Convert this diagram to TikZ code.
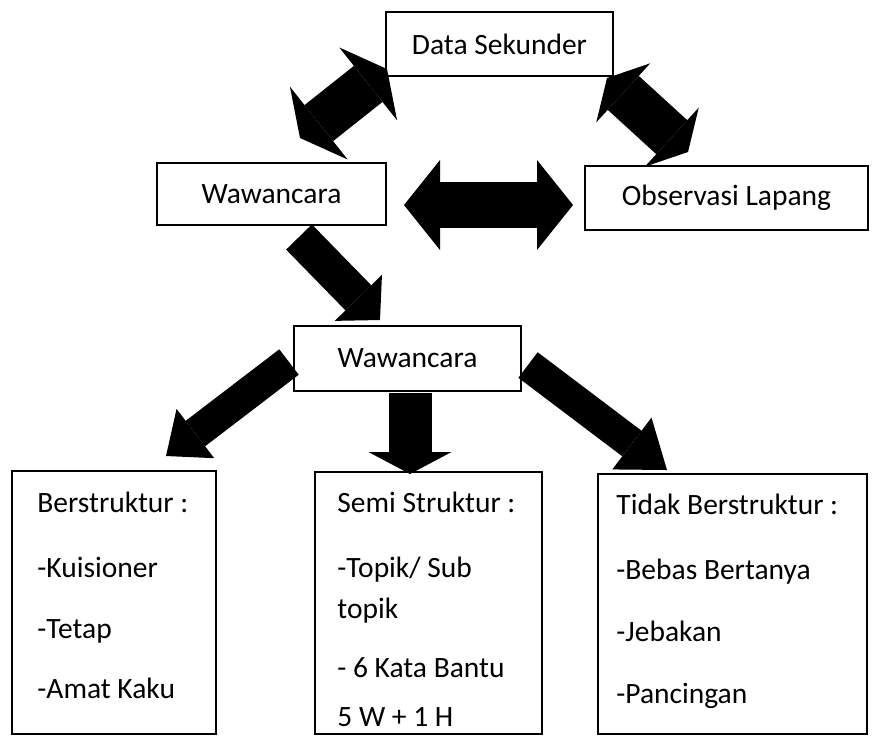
\documentclass[tikz,border=0pt]{standalone}
\usepackage{fontspec}
\setmainfont{Carlito}
\usetikzlibrary{arrows.meta}

\begin{document}
\begin{tikzpicture}[x=0.5pt, y=-0.5pt,
  font=\fontsize{14.75}{20.5}\selectfont,
  box/.style={draw, line width=0.9pt, inner sep=0pt},
  fat/.style n args={3}{line width=#1, -{Triangle[width=#2, length=#3, line width=0pt]}},
  dblfat/.style n args={3}{line width=#1, {Triangle[width=#2, length=#3, line width=0pt]}-{Triangle[width=#2, length=#3, line width=0pt]}}]

\useasboundingbox (0,0) rectangle (892,736);

% Define nodes
\node[box, minimum width=113.5pt, minimum height=32pt] (ds) at (499.5,44) {Data Sekunder};
\node[box, minimum width=114.5pt, minimum height=31pt] (w1) at (271.5,194) {Wawancara};
\node[box, minimum width=141.5pt, minimum height=32pt] (obs) at (726.5,198) {Observasi Lapang};
\node[box, minimum width=113.5pt, minimum height=32.5pt] (w2) at (407.5,358.5) {Wawancara};

\node[box, minimum width=102pt, minimum height=131.5pt] (b1) at (114,602.5) {};
\node[box, minimum width=113.5pt, minimum height=131pt] (b2) at (428.5,603) {};
\node[box, minimum width=134.5pt, minimum height=130pt] (b3) at (732.5,604) {};

\node[anchor=north west, align=left, inner sep=0pt] (b1t) at (37,492) {Berstruktur :\\[12pt]-Kuisioner\\[10pt]-Tetap\\[9.5pt]-Amat Kaku};
\node[anchor=north west, align=left, inner sep=0pt] (b2t) at (337,492) {Semi Struktur :\\[12pt]-Topik/ Sub\\topik\\[9pt]- 6 Kata Bantu\\[4pt]5 W + 1 H};
\node[anchor=north west, align=left, inner sep=0pt] (b3t) at (616,494) {Tidak Berstruktur :\\[12pt]-Bebas Bertanya\\[10.5pt]-Jebakan\\[10.5pt]-Pancingan};

% Arrow ends
\coordinate (a1u) at (387,69);
\coordinate (a1d) at (300,138);
\coordinate (a2u) at (607,78);
\coordinate (a2d) at (688,152);
\coordinate (a3l) at (404,205);
\coordinate (a3r) at (573,205);
\coordinate (a4s) at (299,237);
\coordinate (a4e) at (380,320);
\coordinate (a5s) at (289,362);
\coordinate (a5e) at (166,456);
\coordinate (a6s) at (410,393);
\coordinate (a6e) at (410,474);
\coordinate (a7s) at (528,365);
\coordinate (a7e) at (667,470);

% Draw block arrows
\draw[dblfat={23pt}{46.5pt}{12pt}] (a1d) -- (a1u);
\draw[dblfat={23pt}{40pt}{11pt}] (a2u) -- (a2d);
\draw[dblfat={23pt}{45pt}{18pt}] (a3l) -- (a3r);
\draw[fat={18pt}{33pt}{15.5pt}] (a4s) -- (a4e);
\draw[fat={16pt}{31pt}{18.5pt}] (a5s) -- (a5e);
\draw[fat={21.5pt}{41.5pt}{11pt}] (a6s) -- (a6e);
\draw[fat={16pt}{32.5pt}{22pt}] (a7s) -- (a7e);

\end{tikzpicture}
\end{document}
